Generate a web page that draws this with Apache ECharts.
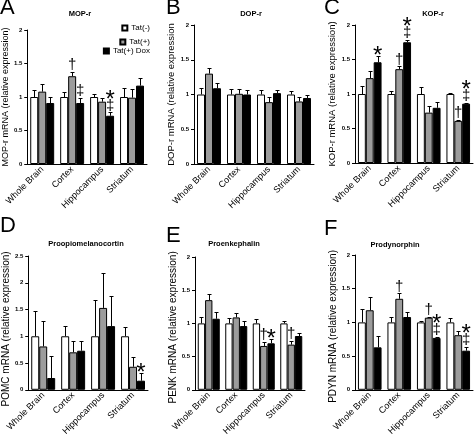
<!DOCTYPE html>
<html><head><meta charset="utf-8">
<script src="https://cdn.jsdelivr.net/npm/echarts@6/dist/echarts.min.js"></script>
<style>html,body{margin:0;padding:0;background:#fff}#c{width:475px;height:438px}</style>
</head><body><div id="c"></div>
<script>
const categories = ['Whole Brain', 'Cortex', 'Hippocampus', 'Striatum'];
const groupNames = ['Tat(-)', 'Tat(+)', 'Tat(+) Dox'];

// A: MOP-r
const mopNeg = [1.0, 1.0, 1.0, 1.0];
const mopPos = [1.08, 1.31, 0.93, 0.99];
const mopDox = [0.91, 0.91, 0.72, 1.17];
const mopNegErr = [0.10, 0.07, 0.05, 0.13];
const mopPosErr = [0.11, 0.07, 0.06, 0.13];
const mopDoxErr = [0.09, 0.07, 0.05, 0.11];
const mopMarks = [[1, 1, ['†']], [1, 2, ['‡']], [2, 2, ['‡', '*']]];

// B: DOP-r
const dopNeg = [1.0, 1.0, 1.0, 1.0];
const dopPos = [1.30, 1.01, 0.89, 0.90];
const dopDox = [1.09, 1.0, 1.02, 0.95];
const dopNegErr = [0.09, 0.08, 0.06, 0.05];
const dopPosErr = [0.08, 0.07, 0.07, 0.06];
const dopDoxErr = [0.07, 0.07, 0.05, 0.04];
const dopMarks = [];

// C: KOP-r
const kopNeg = [1.0, 1.0, 1.0, 1.0];
const kopPos = [1.23, 1.36, 0.73, 0.61];
const kopDox = [1.46, 1.75, 0.80, 0.86];
const kopNegErr = [0.11, 0.05, 0.10, 0.02];
const kopPosErr = [0.10, 0.04, 0.10, 0.02];
const kopDoxErr = [0.09, 0.03, 0.08, 0.01];
const kopMarks = [[0, 2, ['*']], [1, 1, ['†']], [1, 2, ['‡', '*']], [3, 1, ['†']], [3, 2, ['‡', '*']]];

// D: POMC
const pomcNeg = [1.0, 1.0, 1.0, 1.0];
const pomcPos = [0.81, 0.70, 1.53, 0.43];
const pomcDox = [0.22, 0.73, 1.19, 0.17];
const pomcNegErr = [0.48, 0.20, 0.67, 0.17];
const pomcPosErr = [0.48, 0.22, 0.66, 0.18];
const pomcDoxErr = [0.42, 0.19, 0.57, 0.15];
const pomcMarks = [[3, 2, ['*']]];

// E: PENK
const penkNeg = [1.0, 1.0, 1.0, 1.0];
const penkPos = [1.35, 1.09, 0.66, 0.68];
const penkDox = [1.07, 0.96, 0.70, 0.81];
const penkNegErr = [0.09, 0.08, 0.07, 0.04];
const penkPosErr = [0.10, 0.07, 0.06, 0.06];
const penkDoxErr = [0.10, 0.07, 0.06, 0.04];
const penkMarks = [[2, 1, ['†']], [2, 2, ['*']], [3, 1, ['†']]];

// F: PDYN
const pdynNeg = [1.0, 1.0, 1.0, 1.0];
const pdynPos = [1.18, 1.35, 1.07, 0.81];
const pdynDox = [0.63, 1.08, 0.77, 0.58];
const pdynNegErr = [0.20, 0.08, 0.02, 0.07];
const pdynPosErr = [0.20, 0.08, 0.01, 0.06];
const pdynDoxErr = [0.17, 0.07, 0.01, 0.06];
const pdynMarks = [[1, 1, ['†']], [2, 1, ['†']], [2, 2, ['‡', '*']], [3, 2, ['‡', '*']]];

const yTicks2 = [0, 0.5, 1, 1.5, 2];
const yTicks25 = [0, 0.5, 1, 1.5, 2, 2.5];

const FONT = '"Liberation Sans", Arial, sans-serif';
const fills = ['#ffffff', '#9c9c9c', '#000000'];

const panels = [
  {letter: 'A', lx: 0, ly: -3, title: 'MOP-r', tx: 80, ty: 10, yname: 'MOP-r mRNA (relative expression)', ticks: yTicks2,
   means: [mopNeg, mopPos, mopDox], errs: [mopNegErr, mopPosErr, mopDoxErr], marks: mopMarks,
   grid: {left: 27, top: 30, width: 120, height: 134}, nameGap: 14, nameSize: 9, namePad: [0, 0, 0, 0]},
  {letter: 'B', lx: 166, ly: -3, title: 'DOP-r', tx: 251, ty: 10, yname: 'DOP-r mRNA (relative expression', ticks: yTicks2,
   means: [dopNeg, dopPos, dopDox], errs: [dopNegErr, dopPosErr, dopDoxErr], marks: dopMarks,
   grid: {left: 194, top: 25, width: 120, height: 139}, nameGap: 16, nameSize: 9.5, namePad: [0, 0, 0, 0]},
  {letter: 'C', lx: 324, ly: -3, title: 'KOP-r', tx: 433, ty: 10, yname: 'KOP-r mRNA (relative expression)', ticks: yTicks2,
   means: [kopNeg, kopPos, kopDox], errs: [kopNegErr, kopPosErr, kopDoxErr], marks: kopMarks,
   grid: {left: 355, top: 25, width: 118, height: 138}, nameGap: 17, nameSize: 9.5, namePad: [0, 0, 0, 0]},
  {letter: 'D', lx: 0, ly: 215, title: 'Proopiomelanocortin', tx: 86, ty: 240, yname: 'POMC mRNA (relative expression)', ticks: yTicks25,
   means: [pomcNeg, pomcPos, pomcDox], errs: [pomcNegErr, pomcPosErr, pomcDoxErr], marks: pomcMarks,
   grid: {left: 28, top: 256, width: 120, height: 135}, nameGap: 15, nameSize: 10, namePad: [0, 12, 0, 0]},
  {letter: 'E', lx: 166, ly: 225, title: 'Proenkephalin', tx: 234, ty: 240, yname: 'PENK mRNA (relative expression)', ticks: yTicks2,
   means: [penkNeg, penkPos, penkDox], errs: [penkNegErr, penkPosErr, penkDoxErr], marks: penkMarks,
   grid: {left: 195, top: 257, width: 110, height: 134}, nameGap: 17, nameSize: 10, namePad: [0, 8, 0, 0]},
  {letter: 'F', lx: 324, ly: 218, title: 'Prodynorphin', tx: 395, ty: 241, yname: 'PDYN mRNA (relative expression)', ticks: yTicks2,
   means: [pdynNeg, pdynPos, pdynDox], errs: [pdynNegErr, pdynPosErr, pdynDoxErr], marks: pdynMarks,
   grid: {left: 355, top: 255, width: 118, height: 136}, nameGap: 17, nameSize: 10, namePad: [0, 8, 0, 0]}
];

const option = {
  animation: false,
  backgroundColor: '#fff',
  textStyle: {fontFamily: FONT},
  title: [], grid: [], xAxis: [], yAxis: [], series: [],
  legend: [
    {data: [groupNames[0]], right: 325, top: 24},
    {data: [groupNames[1]], right: 325, top: 38},
    {data: [groupNames[2]], right: 325, top: 47}
  ].map(l => Object.assign(l, {orient: 'vertical', padding: 0, itemWidth: 5, itemHeight: 5, itemGap: 0, icon: 'rect',
    selectedMode: false, textStyle: {fontSize: 8, color: '#000', fontFamily: FONT, padding: [0, 0, 0, -1]}}))
};

const symSize = {'†': 15, '‡': 15, '*': 24};
const symH = {'†': 12, '‡': 12, '*': 9};
const symNudge = {'†': 0, '‡': 0, '*': 6};

panels.forEach((p, i) => {
  option.title.push({text: p.letter, left: p.lx, top: p.ly, padding: 0,
    textStyle: {fontSize: 22, fontWeight: 'normal', color: '#000', fontFamily: FONT}});
  option.title.push({text: p.title, left: p.tx, top: p.ty, textAlign: 'center', padding: 0,
    textStyle: {fontSize: 7.5, fontWeight: 'bold', color: '#000', fontFamily: FONT}});
  option.grid.push(p.grid);
  const tmax = p.ticks[p.ticks.length - 1];
  option.xAxis.push({type: 'category', gridIndex: i, data: categories,
    axisLine: {lineStyle: {color: '#000', width: 1}},
    axisTick: {length: 3, lineStyle: {color: '#000'}},
    axisLabel: {rotate: 45, interval: 0, fontSize: 9, color: '#000', margin: 4, fontFamily: FONT}});
  option.yAxis.push({type: 'value', gridIndex: i, min: p.ticks[0], max: tmax, interval: p.ticks[1] - p.ticks[0],
    name: p.yname, nameLocation: 'middle', nameGap: p.nameGap,
    nameTextStyle: {fontSize: p.nameSize, color: '#000', fontFamily: FONT, padding: p.namePad},
    axisLine: {show: true, lineStyle: {color: '#000', width: 1}},
    axisTick: {show: true, length: 3, lineStyle: {color: '#000'}},
    splitLine: {show: false},
    axisLabel: {fontSize: 6, fontWeight: 'bold', color: '#000', margin: 5, fontFamily: FONT}});
  p.means.forEach((m, g) => {
    option.series.push({type: 'bar', name: groupNames[g], xAxisIndex: i, yAxisIndex: i, data: m,
      barGap: '0%', barCategoryGap: '20%',
      itemStyle: {color: fills[g], borderColor: '#000', borderWidth: 1}});
  });
  // error bars
  const errData = [];
  p.means.forEach((m, g) => m.forEach((v, c) => errData.push([c, g, v, v + p.errs[g][c]])));
  option.series.push({type: 'custom', xAxisIndex: i, yAxisIndex: i, z: 5, data: errData,
    encode: {x: 0, y: [2, 3]},
    renderItem: (params, api) => {
      const c = api.value(0), g = api.value(1);
      const band = api.size([1, 0])[0];
      const bw = band * 0.8 / 3;
      const b = api.coord([c, api.value(2)]);
      const t = api.coord([c, api.value(3)]);
      const x = Math.round(b[0] + (g - 1) * bw) + 0.5;
      const ty = Math.round(t[1]) + 0.5;
      return {type: 'group', children: [
        {type: 'line', shape: {x1: x, y1: b[1], x2: x, y2: ty}, style: {stroke: '#000', lineWidth: 1}},
        {type: 'line', shape: {x1: x - 2, y1: ty, x2: x + 2, y2: ty}, style: {stroke: '#000', lineWidth: 1}}
      ]};
    }});
  // significance marks
  const markData = p.marks.map(mk => [mk[0], mk[1], p.means[mk[1]][mk[0]] + p.errs[mk[1]][mk[0]]]);
  if (markData.length) {
    option.series.push({type: 'custom', xAxisIndex: i, yAxisIndex: i, z: 6, data: markData,
      encode: {x: 0, y: 2},
      renderItem: (params, api) => {
        const mk = p.marks[params.dataIndex];
        const c = api.value(0), g = api.value(1);
        const band = api.size([1, 0])[0];
        const bw = band * 0.8 / 3;
        const t = api.coord([c, api.value(2)]);
        const x = t[0] + (g - 1) * bw;
        let y = t[1] - 1;
        const children = [];
        mk[2].forEach(s => {
          const h = symH[s];
          const cy = y - h / 2;
          children.push({type: 'text', x: x, y: cy + symNudge[s],
            style: {text: s, fill: '#000', font: symSize[s] + 'px ' + FONT, textAlign: 'center', textVerticalAlign: 'middle'}});
          y -= h + 1;
        });
        return {type: 'group', children};
      }});
  }
});

const chart = echarts.init(document.getElementById('c'), null, {renderer: 'canvas'});
chart.setOption(option);
</script>
</body></html>
